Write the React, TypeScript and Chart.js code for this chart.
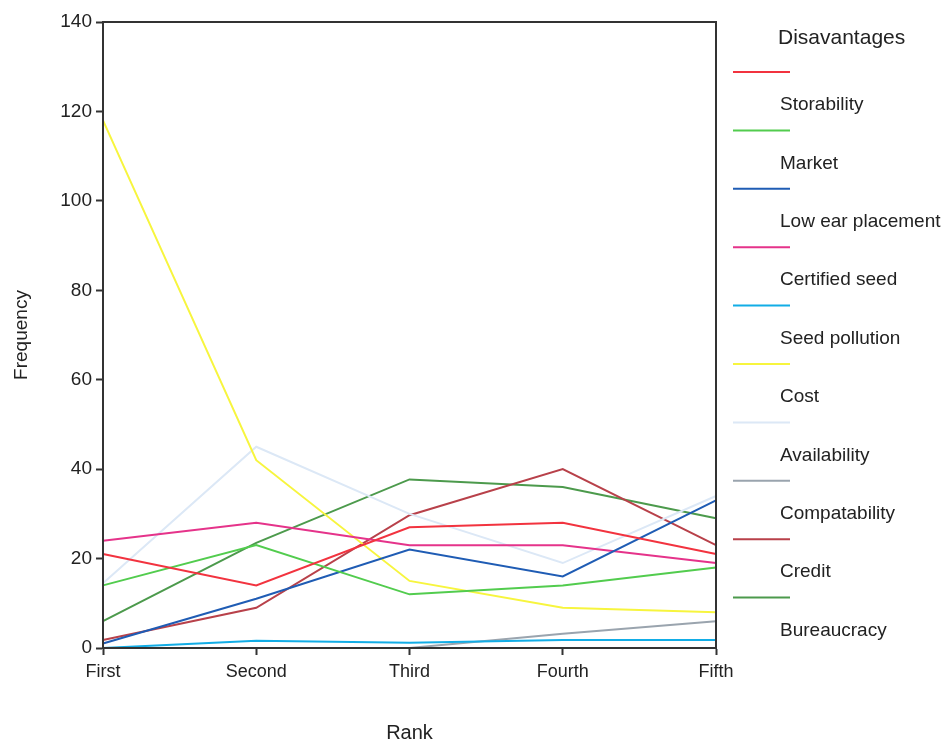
import React, { useEffect, useRef } from "react";
import { Chart, registerables } from "chart.js";

Chart.register(...registerables);

const ranks = ["First", "Second", "Third", "Fourth", "Fifth"];

const storability = [21, 14, 27, 28, 21];
const market = [14, 23, 12, 14, 18];
const lowEarPlacement = [1, 11, 22, 16, 33];
const certifiedSeed = [24, 28, 23, 23, 19];
const seedPollution = [0, 1.6, 1.2, 1.8, 1.8];
const cost = [118, 42, 15, 9, 8];
const availability = [14.5, 45, 30, 19, 34];
const compatability = [0, 0, 0, 3.2, 6];
const credit = [1.8, 9, 29.7, 40, 23];
const bureaucracy = [6, 23.5, 37.7, 36, 29];

const seriesNames = [
  "Storability",
  "Market",
  "Low ear placement",
  "Certified seed",
  "Seed pollution",
  "Cost",
  "Availability",
  "Compatability",
  "Credit",
  "Bureaucracy",
];
const seriesValues = [
  storability,
  market,
  lowEarPlacement,
  certifiedSeed,
  seedPollution,
  cost,
  availability,
  compatability,
  credit,
  bureaucracy,
];
const seriesColors = [
  "#f2333f",
  "#52cc4e",
  "#1f5cb4",
  "#e5338a",
  "#12ade6",
  "#f7f53e",
  "#dce8f6",
  "#9aa4ae",
  "#b8414a",
  "#4c9a4c",
];

const legendTitle = "Disavantages";
const yTitle = "Frequency";
const xTitle = "Rank";

const FONT = "'Liberation Sans', Arial, Helvetica, sans-serif";
const AXIS = "#333333";

const framePlugin = {
  id: "frame",
  afterDraw(chart: any) {
    const { ctx, chartArea } = chart;
    ctx.save();
    ctx.strokeStyle = AXIS;
    ctx.lineWidth = 2;
    ctx.strokeRect(
      chartArea.left,
      chartArea.top,
      chartArea.right - chartArea.left,
      chartArea.bottom - chartArea.top
    );
    ctx.restore();
  },
};

const legendPlugin = {
  id: "stackLegend",
  afterDraw(chart: any) {
    const { ctx } = chart;
    ctx.save();
    ctx.fillStyle = "#222";
    ctx.textBaseline = "middle";
    ctx.textAlign = "left";
    ctx.font = `21px ${FONT}`;
    ctx.fillText(legendTitle, 778, 38);
    const step = 58.4;
    chart.data.datasets.forEach((ds: any, i: number) => {
      const ly = 72 + i * step;
      ctx.strokeStyle = ds.borderColor;
      ctx.lineWidth = 2;
      ctx.beginPath();
      ctx.moveTo(733, ly);
      ctx.lineTo(790, ly);
      ctx.stroke();
      ctx.fillStyle = "#222";
      ctx.font = `19px ${FONT}`;
      ctx.fillText(ds.label, 780, ly + 33);
    });
    ctx.restore();
  },
};

export default function App() {
  const ref = useRef<HTMLCanvasElement | null>(null);
  useEffect(() => {
    document.body.style.margin = "0";
    if (!ref.current) return;
    const chart = new Chart(ref.current, {
      type: "line",
      data: {
        labels: ranks,
        datasets: seriesNames.map((name, i) => ({
          label: name,
          data: seriesValues[i],
          borderColor: seriesColors[i],
          backgroundColor: seriesColors[i],
          borderWidth: 2,
          pointRadius: 0,
          tension: 0,
          fill: false,
        })),
      },
      options: {
        animation: false,
        responsive: false,
        maintainAspectRatio: false,
        layout: { padding: { left: 0, top: 22, right: 234, bottom: 0 } },
        plugins: {
          legend: { display: false },
          tooltip: { enabled: false },
          title: { display: false },
        },
        scales: {
          x: {
            type: "category",
            offset: false,
            border: { display: true, color: AXIS, width: 2 },
            grid: {
              display: true,
              drawOnChartArea: false,
              drawTicks: true,
              tickLength: 7,
              tickColor: AXIS,
              tickWidth: 2,
            },
            ticks: {
              color: "#222",
              font: { family: FONT, size: 18 },
              padding: 6,
              maxRotation: 0,
              autoSkip: false,
            },
            title: {
              display: true,
              text: xTitle,
              color: "#222",
              font: { family: FONT, size: 20 },
              padding: { top: 0, bottom: -1 },
            },
            afterFit(scale: any) {
              scale.height = 96;
            },
          },
          y: {
            min: 0,
            max: 140,
            border: { display: true, color: AXIS, width: 2 },
            grid: {
              display: true,
              drawOnChartArea: false,
              drawTicks: true,
              tickLength: 7,
              tickColor: AXIS,
              tickWidth: 2,
            },
            ticks: {
              stepSize: 20,
              color: "#222",
              font: { family: FONT, size: 19 },
              padding: 4,
            },
            title: {
              display: true,
              text: yTitle,
              color: "#222",
              font: { family: FONT, size: 19 },
              padding: { top: 10, bottom: 0 },
            },
            afterFit(scale: any) {
              scale.width = 103;
            },
          },
        },
      },
      plugins: [framePlugin, legendPlugin],
    });
    return () => chart.destroy();
  }, []);
  return (
    <div style={{ width: 950, height: 744, background: "#fff" }}>
      <canvas ref={ref} width={950} height={744} style={{ display: "block" }} />
    </div>
  );
}
